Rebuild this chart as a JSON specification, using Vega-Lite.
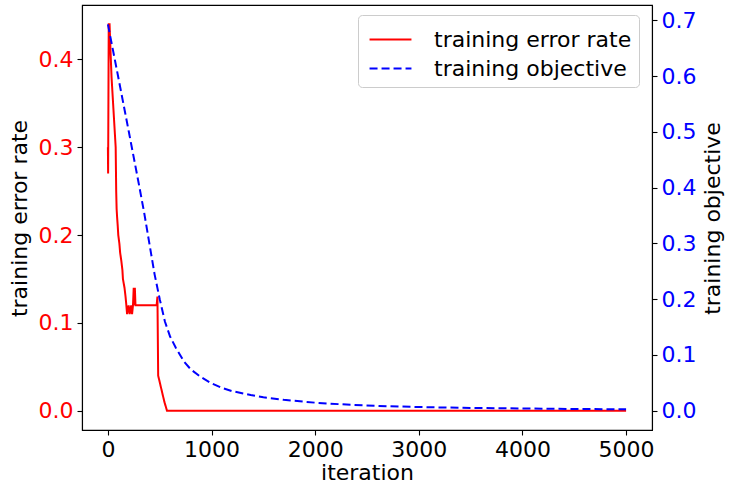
{
  "$schema": "https://vega.github.io/schema/vega-lite/v6.json",
  "autosize": "none",
  "width": 570,
  "height": 425,
  "padding": {"left": 82, "top": 5, "right": 77, "bottom": 60},
  "config": {
    "font": "DejaVu Sans",
    "view": {"stroke": "black", "strokeWidth": 1.1},
    "axis": {
      "grid": false,
      "labelFontSize": 22,
      "titleFontSize": 22,
      "titleFontWeight": "normal",
      "titleColor": "black",
      "tickColor": "black",
      "domainColor": "black",
      "tickSize": 5,
      "tickWidth": 1.1,
      "domainWidth": 1.1,
      "labelPadding": 4
    },
    "legend": {
      "labelFontSize": 22,
      "labelFont": "DejaVu Sans",
      "labelColor": "black",
      "symbolType": "M-1.27,0H1.27",
      "symbolSize": 1089,
      "symbolStrokeWidth": 2,
      "padding": 7,
      "symbolOffset": 8,
      "labelOffset": 26,
      "rowPadding": 0,
      "strokeColor": "#cccccc",
      "fillColor": "white",
      "cornerRadius": 4,
      "labelLimit": 400
    }
  },
  "data": {
    "values": [
      {"series": "training error rate", "iteration": 0, "value": 0.30},
      {"series": "training error rate", "iteration": 2, "value": 0.27},
      {"series": "training error rate", "iteration": 8, "value": 0.44},
      {"series": "training error rate", "iteration": 16, "value": 0.44},
      {"series": "training error rate", "iteration": 25, "value": 0.41},
      {"series": "training error rate", "iteration": 35, "value": 0.38},
      {"series": "training error rate", "iteration": 45, "value": 0.36},
      {"series": "training error rate", "iteration": 55, "value": 0.34},
      {"series": "training error rate", "iteration": 65, "value": 0.32},
      {"series": "training error rate", "iteration": 75, "value": 0.30},
      {"series": "training error rate", "iteration": 80, "value": 0.25},
      {"series": "training error rate", "iteration": 84, "value": 0.23},
      {"series": "training error rate", "iteration": 89, "value": 0.22},
      {"series": "training error rate", "iteration": 95, "value": 0.21},
      {"series": "training error rate", "iteration": 100, "value": 0.20},
      {"series": "training error rate", "iteration": 111, "value": 0.19},
      {"series": "training error rate", "iteration": 118, "value": 0.18},
      {"series": "training error rate", "iteration": 130, "value": 0.17},
      {"series": "training error rate", "iteration": 140, "value": 0.16},
      {"series": "training error rate", "iteration": 145, "value": 0.15},
      {"series": "training error rate", "iteration": 160, "value": 0.14},
      {"series": "training error rate", "iteration": 170, "value": 0.13},
      {"series": "training error rate", "iteration": 178, "value": 0.12},
      {"series": "training error rate", "iteration": 185, "value": 0.11},
      {"series": "training error rate", "iteration": 200, "value": 0.12},
      {"series": "training error rate", "iteration": 210, "value": 0.11},
      {"series": "training error rate", "iteration": 225, "value": 0.12},
      {"series": "training error rate", "iteration": 233, "value": 0.11},
      {"series": "training error rate", "iteration": 242, "value": 0.12},
      {"series": "training error rate", "iteration": 249, "value": 0.14},
      {"series": "training error rate", "iteration": 255, "value": 0.12},
      {"series": "training error rate", "iteration": 260, "value": 0.14},
      {"series": "training error rate", "iteration": 266, "value": 0.12},
      {"series": "training error rate", "iteration": 470, "value": 0.12},
      {"series": "training error rate", "iteration": 478, "value": 0.13},
      {"series": "training error rate", "iteration": 485, "value": 0.04},
      {"series": "training error rate", "iteration": 505, "value": 0.03},
      {"series": "training error rate", "iteration": 525, "value": 0.02},
      {"series": "training error rate", "iteration": 545, "value": 0.01},
      {"series": "training error rate", "iteration": 570, "value": 0.0},
      {"series": "training error rate", "iteration": 5000, "value": 0.0},
      {"series": "training objective", "iteration": 0, "value": 0.693},
      {"series": "training objective", "iteration": 100, "value": 0.598},
      {"series": "training objective", "iteration": 200, "value": 0.502},
      {"series": "training objective", "iteration": 300, "value": 0.405},
      {"series": "training objective", "iteration": 350, "value": 0.355},
      {"series": "training objective", "iteration": 400, "value": 0.300},
      {"series": "training objective", "iteration": 450, "value": 0.245},
      {"series": "training objective", "iteration": 500, "value": 0.200},
      {"series": "training objective", "iteration": 550, "value": 0.160},
      {"series": "training objective", "iteration": 600, "value": 0.133},
      {"series": "training objective", "iteration": 655, "value": 0.113},
      {"series": "training objective", "iteration": 734, "value": 0.088},
      {"series": "training objective", "iteration": 800, "value": 0.074},
      {"series": "training objective", "iteration": 900, "value": 0.060},
      {"series": "training objective", "iteration": 1000, "value": 0.049},
      {"series": "training objective", "iteration": 1100, "value": 0.041},
      {"series": "training objective", "iteration": 1200, "value": 0.035},
      {"series": "training objective", "iteration": 1378, "value": 0.028},
      {"series": "training objective", "iteration": 1500, "value": 0.024},
      {"series": "training objective", "iteration": 1696, "value": 0.0196},
      {"series": "training objective", "iteration": 2020, "value": 0.014},
      {"series": "training objective", "iteration": 2341, "value": 0.0105},
      {"series": "training objective", "iteration": 2700, "value": 0.008},
      {"series": "training objective", "iteration": 3000, "value": 0.0065},
      {"series": "training objective", "iteration": 3500, "value": 0.005},
      {"series": "training objective", "iteration": 4000, "value": 0.004},
      {"series": "training objective", "iteration": 4500, "value": 0.003},
      {"series": "training objective", "iteration": 5000, "value": 0.0025}
    ]
  },
  "encoding": {
    "x": {
      "field": "iteration",
      "type": "quantitative",
      "scale": {"domain": [-250, 5250], "nice": false, "zero": false},
      "axis": {"title": "iteration", "values": [0, 1000, 2000, 3000, 4000, 5000], "format": "d", "labelColor": "black", "titlePadding": 2}
    },
    "color": {
      "field": "series",
      "type": "nominal",
      "scale": {"domain": ["training error rate", "training objective"], "range": ["#ff0000", "#0000ff"]},
      "legend": {"title": null, "orient": "none", "legendX": 276, "legendY": 10}
    },
    "strokeDash": {
      "field": "series",
      "type": "nominal",
      "scale": {"domain": ["training error rate", "training objective"], "range": [[1, 0], [8, 4]]},
      "legend": {"title": null, "orient": "none", "legendX": 276, "legendY": 10}
    }
  },
  "layer": [
    {
      "transform": [{"filter": "datum.series === 'training error rate'"}],
      "mark": {"type": "line", "strokeWidth": 2, "interpolate": "linear"},
      "encoding": {
        "y": {
          "field": "value",
          "type": "quantitative",
          "scale": {"domain": [-0.022, 0.462], "nice": false, "zero": false},
          "axis": {"title": "training error rate", "orient": "left", "values": [0, 0.1, 0.2, 0.3, 0.4], "format": ".1f", "labelColor": "#ff0000", "titleX": -63, "titleY": 213, "titleAngle": 270, "titleAlign": "center", "titleBaseline": "middle"}
        }
      }
    },
    {
      "transform": [{"filter": "datum.series === 'training objective'"}],
      "mark": {"type": "line", "strokeWidth": 2, "interpolate": "linear"},
      "encoding": {
        "y": {
          "field": "value",
          "type": "quantitative",
          "scale": {"domain": [-0.03465, 0.72765], "nice": false, "zero": false},
          "axis": {"title": "training objective", "orient": "right", "values": [0, 0.1, 0.2, 0.3, 0.4, 0.5, 0.6, 0.7], "format": ".1f", "labelColor": "#0000ff", "titleX": 60, "titleY": 213, "titleAngle": 270, "titleAlign": "center", "titleBaseline": "middle"}
        }
      }
    }
  ],
  "resolve": {"scale": {"y": "independent"}}
}
